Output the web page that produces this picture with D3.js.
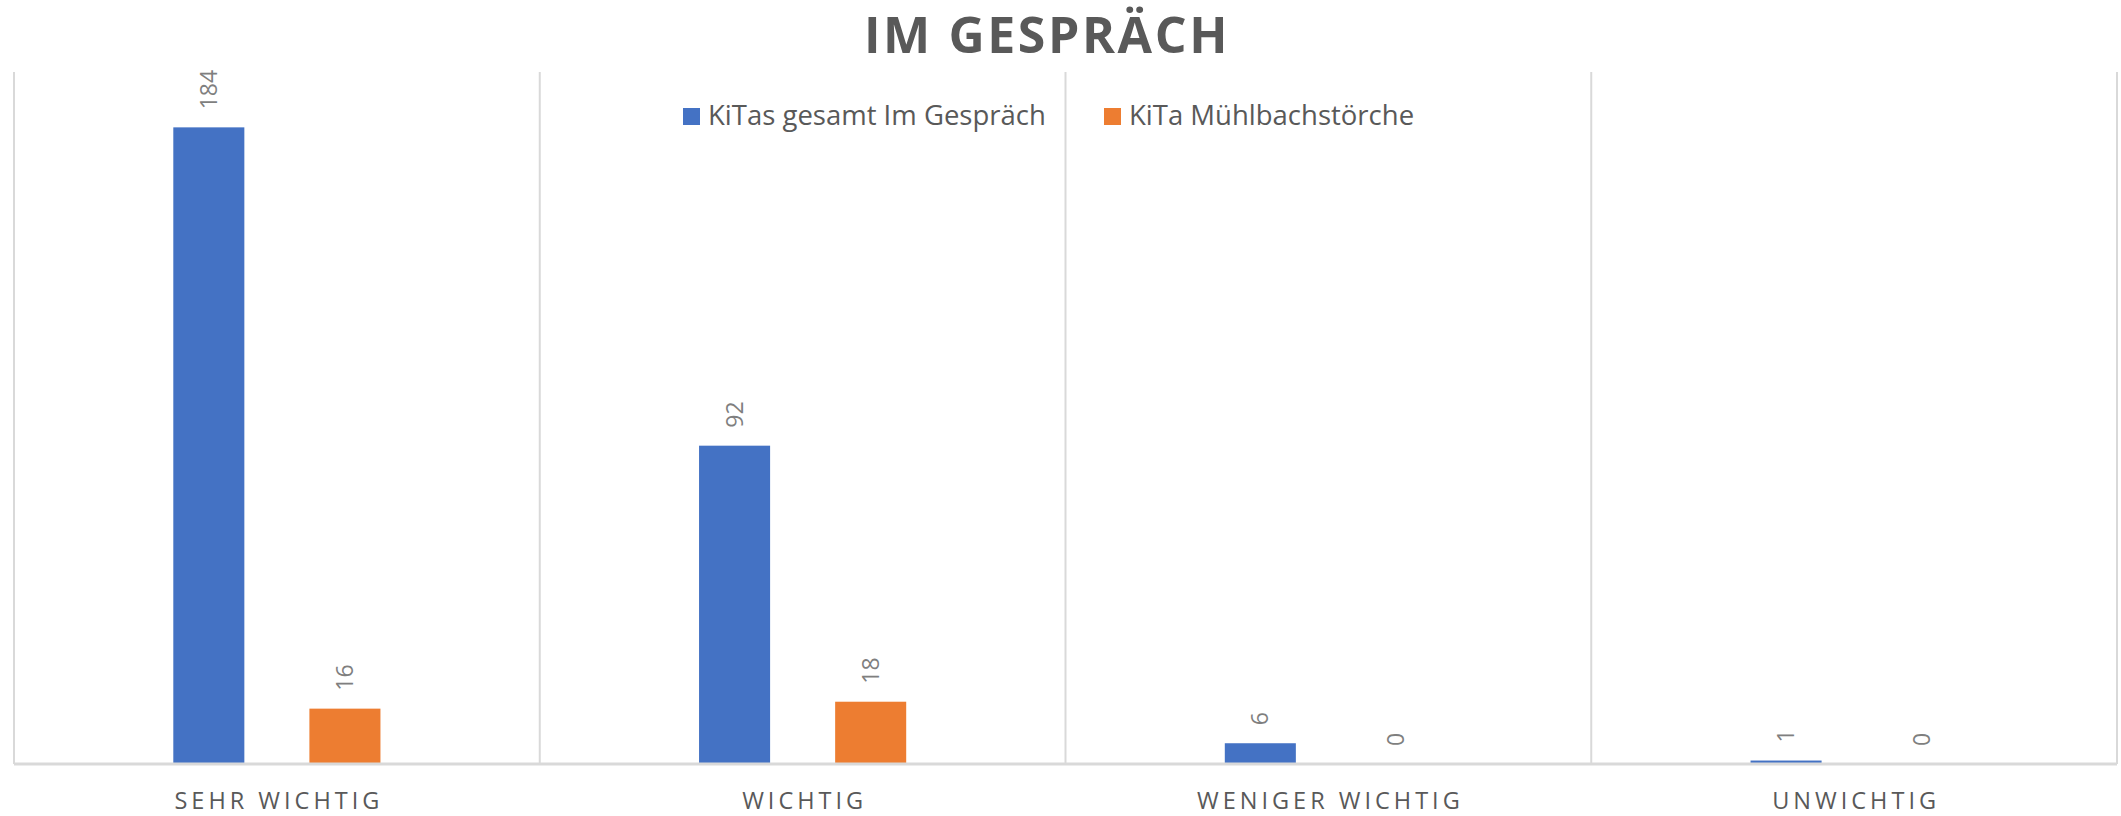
<!DOCTYPE html>
<html>
<head>
<meta charset="utf-8">
<script src="https://cdn.jsdelivr.net/npm/d3@7"></script>
<style>
  body { margin: 0; background: #fff; }
  svg { display: block; font-family: "Open Sans", "Noto Sans", sans-serif; }
</style>
</head>
<body>
<svg id="chart"></svg>
<script>
// Data
const categories = ['SEHR WICHTIG', 'WICHTIG', 'WENIGER WICHTIG', 'UNWICHTIG'];
const seriesNames = ['KiTas gesamt Im Gespräch', 'KiTa Mühlbachstörche'];
const kitasGesamt = [184, 92, 6, 1];
const kitaMuehlbach = [16, 18, 0, 0];
const seriesColors = ['#4472c4', '#ed7d31'];
const chartTitle = 'IM GESPRÄCH';

const width = 2121, height = 816;
const margin = {top: 72, right: 4, bottom: 52, left: 14};
const innerW = width - margin.left - margin.right;
const innerH = height - margin.top - margin.bottom;

const svg = d3.select('#chart')
  .attr('width', width)
  .attr('height', height);

// Title
svg.append('text')
  .attr('x', 1047)
  .attr('y', 53)
  .attr('text-anchor', 'middle')
  .attr('font-size', 50)
  .attr('font-weight', 700)
  .attr('letter-spacing', 2.6)
  .attr('fill', '#595959')
  .text(chartTitle);

const g = svg.append('g')
  .attr('transform', `translate(${margin.left},${margin.top})`);

const x0 = d3.scaleBand()
  .domain(categories)
  .range([0, innerW]);

// two bars per category, 71px wide with a 65px gap
const groupW = x0.bandwidth() * 0.394;
const x1 = d3.scaleBand()
  .domain(seriesNames)
  .range([-groupW / 2, groupW / 2])
  .paddingInner(0.478);

const y = d3.scaleLinear()
  .domain([0, 200])
  .range([innerH, 0]);

// category separators
g.selectAll('.sep')
  .data(d3.range(categories.length + 1))
  .enter()
  .append('line')
  .attr('class', 'sep')
  .attr('x1', i => i * x0.step())
  .attr('x2', i => i * x0.step())
  .attr('y1', 0)
  .attr('y2', innerH)
  .attr('stroke', '#d9d9d9')
  .attr('stroke-width', 2);

const rows = categories.map((c, i) => ({
  category: c,
  values: [
    {series: seriesNames[0], value: kitasGesamt[i], color: seriesColors[0]},
    {series: seriesNames[1], value: kitaMuehlbach[i], color: seriesColors[1]}
  ]
}));

const groups = g.selectAll('.group')
  .data(rows)
  .enter()
  .append('g')
  .attr('class', 'group')
  .attr('transform', d => `translate(${x0(d.category) + x0.bandwidth() / 2},0)`);

groups.selectAll('rect')
  .data(d => d.values)
  .enter()
  .append('rect')
  .attr('x', d => x1(d.series))
  .attr('width', x1.bandwidth())
  .attr('y', d => y(d.value))
  .attr('height', d => innerH - y(d.value))
  .attr('fill', d => d.color);

// rotated value labels
groups.selectAll('.val')
  .data(d => d.values)
  .enter()
  .append('text')
  .attr('class', 'val')
  .attr('transform', d => `translate(${x1(d.series) + x1.bandwidth() / 2 + 8},${y(d.value) - 18}) rotate(-90)`)
  .attr('text-anchor', 'start')
  .attr('font-size', 23)
  .attr('fill', '#7f7f7f')
  .text(d => d.value);

// baseline
g.append('line')
  .attr('x1', 0)
  .attr('x2', innerW)
  .attr('y1', innerH)
  .attr('y2', innerH)
  .attr('stroke', '#d9d9d9')
  .attr('stroke-width', 3);

// category labels
g.selectAll('.cat')
  .data(categories)
  .enter()
  .append('text')
  .attr('class', 'cat')
  .attr('x', d => x0(d) + x0.bandwidth() / 2 + 2)
  .attr('y', innerH + 45)
  .attr('text-anchor', 'middle')
  .attr('font-size', 23.5)
  .attr('letter-spacing', 4)
  .attr('fill', '#595959')
  .text(d => d);

// legend
const legend = svg.append('g')
  .attr('transform', 'translate(683,108)');
const legendX = [0, 421];
seriesNames.forEach((name, i) => {
  const item = legend.append('g').attr('transform', `translate(${legendX[i]},0)`);
  item.append('rect')
    .attr('width', 17)
    .attr('height', 17)
    .attr('fill', seriesColors[i]);
  item.append('text')
    .attr('x', 25)
    .attr('y', 17)
    .attr('font-size', 27.5)
    .attr('fill', '#595959')
    .text(name);
});
</script>
</body>
</html>
